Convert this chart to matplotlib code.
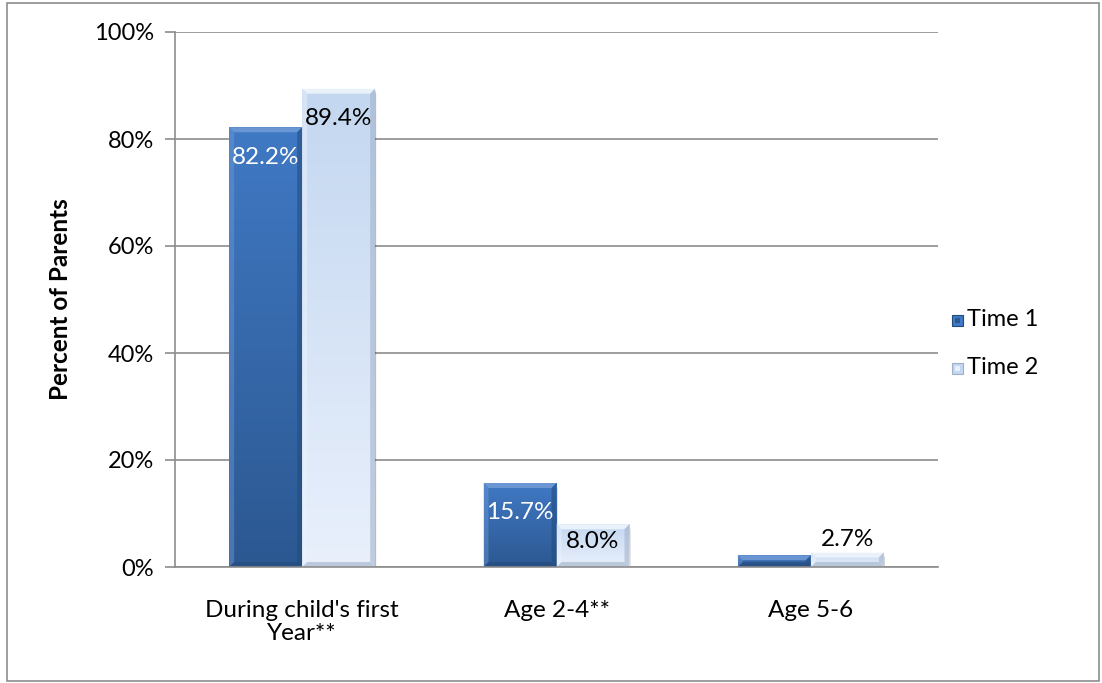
import numpy as np
import matplotlib
matplotlib.use("Agg")
import matplotlib.pyplot as plt
from matplotlib.patches import Polygon, Rectangle
from matplotlib.colors import LinearSegmentedColormap

plt.rcParams['font.family'] = ['Lato', 'DejaVu Sans']

categories = ["During child's first\nYear**", "Age 2-4**", "Age 5-6"]
series_names = ["Time 1", "Time 2"]
time1 = [82.2, 15.7, 2.2]
time2 = [89.4, 8.0, 2.7]
labels1 = ["82.2%", "15.7%", ""]
labels2 = ["89.4%", "8.0%", "2.7%"]
yticks = [0, 20, 40, 60, 80, 100]
ytick_labels = ["0%", "20%", "40%", "60%", "80%", "100%"]

W, H = 1102, 683
fig = plt.figure(figsize=(W / 100, H / 100), dpi=100)
ax = fig.add_axes([175 / W, 1 - 567 / H, (938 - 175) / W, (567 - 32) / H])

# outer chart frame
fig.patches.append(Rectangle((7 / W, 2 / H), (1099 - 7) / W, (680 - 2) / H,
                             transform=fig.transFigure, fill=False,
                             edgecolor="#8c8c8c", lw=1.2))

x = np.arange(len(categories))
bw = 0.287
styles = [
    dict(top="#4079c4", bottom="#2c5891", light="#6f9ad6", dark="#234a7c"),
    dict(top="#c3d7f0", bottom="#e9f0fc", light="#eef4fd", dark="#9fb0c8"),
]
label_size = 17.5

ax.set_xlim(-0.5, 2.5)
ax.set_ylim(0, 100)
fig.canvas.draw()

def px_to_data(dx_px, dy_px):
    inv = ax.transData.inverted()
    p0 = inv.transform((0, 0))
    p1 = inv.transform((dx_px, dy_px))
    return p1[0] - p0[0], p1[1] - p0[1]

def draw_bevel_bar(xc, h, st):
    left = xc - bw / 2
    # soft shadow
    for k, a in enumerate([0.10, 0.08, 0.06, 0.04]):
        sx, sy = px_to_data(2 + k, 3 + k)
        ax.add_patch(Rectangle((left + sx * 0.3, -sy), bw, h + sy * 0.2,
                               facecolor="#000000", alpha=a, lw=0, zorder=2))
    bars = ax.bar(xc, h, width=bw, color=st["top"], lw=0, zorder=3)
    patch = bars[0]
    grad = np.linspace(0, 1, 256).reshape(-1, 1)
    cmap = LinearSegmentedColormap.from_list("g", [st["bottom"], st["top"]])
    im = ax.imshow(grad, extent=(left, left + bw, 0, h), origin="lower",
                   cmap=cmap, aspect="auto", zorder=3.5)
    im.set_clip_path(patch)
    bx, by = px_to_data(5, 5)
    by = min(by, h / 2)
    r, t = left + bw, h
    top_poly = [(left, t), (r, t), (r - bx, t - by), (left + bx, t - by)]
    left_poly = [(left, 0), (left, t), (left + bx, t - by), (left + bx, by)]
    right_poly = [(r, 0), (r, t), (r - bx, t - by), (r - bx, by)]
    bot_poly = [(left, 0), (r, 0), (r - bx, by), (left + bx, by)]
    ax.add_patch(Polygon(top_poly, facecolor=st["light"], lw=0, zorder=4, alpha=0.9))
    ax.add_patch(Polygon(left_poly, facecolor=st["light"], lw=0, zorder=4, alpha=0.45))
    ax.add_patch(Polygon(right_poly, facecolor=st["dark"], lw=0, zorder=4, alpha=0.55))
    ax.add_patch(Polygon(bot_poly, facecolor=st["dark"], lw=0, zorder=4, alpha=0.6))
    return patch

def label_y(v):
    # inside the top of the bar when there is room, else just above it
    if v > 12:
        return v - 5.6
    if v > 6:
        return v - 3.2
    return v + 2.5

for i in range(len(categories)):
    draw_bevel_bar(x[i] - bw / 2, time1[i], styles[0])
    draw_bevel_bar(x[i] + bw / 2, time2[i], styles[1])
    if labels1[i]:
        ax.text(x[i] - bw / 2, label_y(time1[i]), labels1[i], ha="center", va="center",
                color="white", fontsize=label_size, zorder=6)
    ax.text(x[i] + bw / 2, label_y(time2[i]), labels2[i], ha="center", va="center",
            color="black", fontsize=label_size, zorder=6)

ax.set_yticks(yticks)
ax.set_yticklabels(ytick_labels, fontsize=17)
ax.set_xticks(x)
ax.set_xticklabels(categories, fontsize=17.5, linespacing=1.12)
ax.tick_params(axis="x", length=0, pad=24)
ax.tick_params(axis="y", length=7, width=1.2, color="#8c8c8c", pad=8)
ax.grid(axis="y", color="#8c8c8c", lw=1.2, zorder=1)
ax.set_axisbelow(True)
for s in ["top", "right"]:
    ax.spines[s].set_visible(False)
ax.spines["left"].set_color("#8c8c8c")
ax.spines["left"].set_linewidth(1.2)
ax.spines["bottom"].set_color("#8c8c8c")
ax.spines["bottom"].set_linewidth(1.2)
ax.spines["bottom"].set_zorder(5)
ax.set_ylabel("Percent of Parents", fontsize=17.5, fontweight="bold", labelpad=16)

# legend with bevelled swatches
for j, (name, st) in enumerate(zip(series_names, styles)):
    cy = 1 - (320 + j * 48) / H
    sx0 = 952 / W
    sw, sh = 11 / W, 11 / H
    fig.patches.append(Rectangle((sx0, cy - sh / 2), sw, sh, transform=fig.transFigure,
                                 facecolor=st["top"], edgecolor=st["dark"], lw=0.8))
    fig.patches.append(Rectangle((sx0 + 3 / W, cy - sh / 2 + 3 / H), 5 / W, 5 / H,
                                 transform=fig.transFigure,
                                 facecolor=st["bottom"], lw=0))
    fig.text(sx0 + 15 / W, cy, name, fontsize=17, va="center", ha="left")

fig.savefig("out.png", dpi=100)
